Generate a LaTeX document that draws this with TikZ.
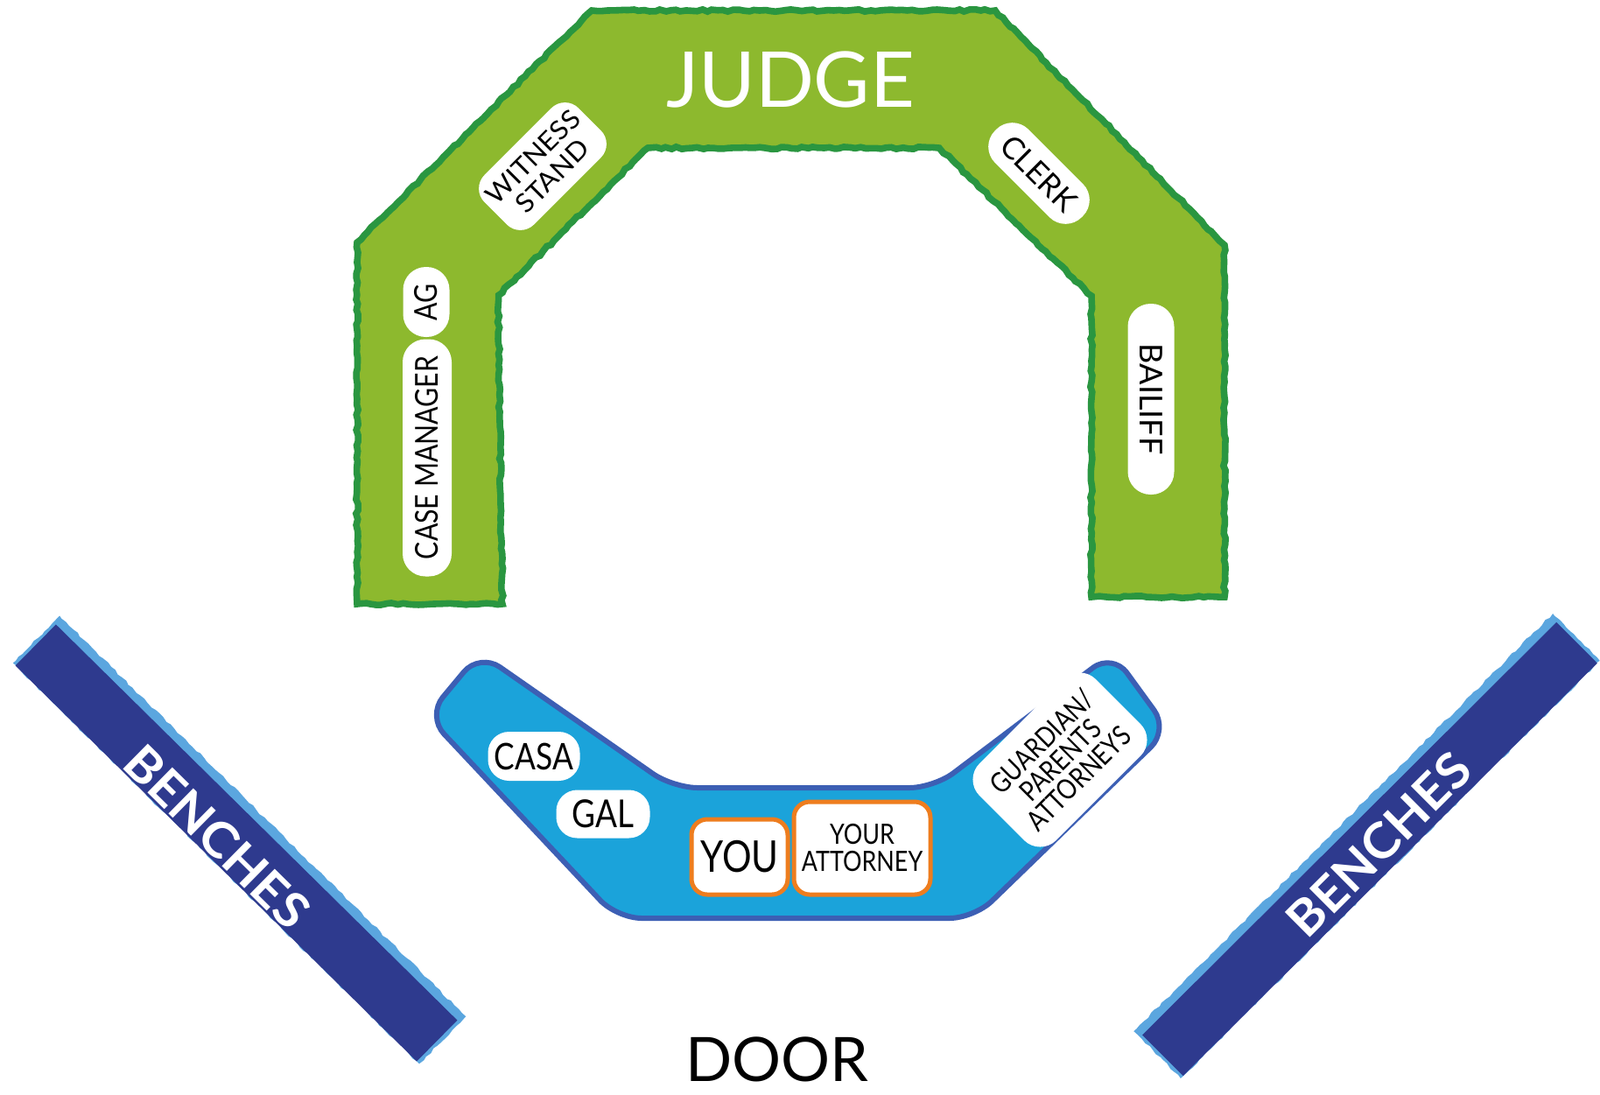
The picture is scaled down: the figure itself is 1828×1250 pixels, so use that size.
\documentclass[tikz,border=0pt]{standalone}
\usepackage{fontspec}
\setmainfont{Lato}
\newfontfamily\condf[FakeStretch=0.84]{Lato}
\newfontfamily\widef[FakeStretch=1.06]{Lato}
\usetikzlibrary{decorations.pathmorphing}
\definecolor{archfill}{HTML}{8DB92E}
\definecolor{archedge}{HTML}{2A9640}
\definecolor{tablefill}{HTML}{1BA3DA}
\definecolor{tableedge}{HTML}{3C5FB4}
\definecolor{benchdark}{HTML}{2E3A8E}
\definecolor{benchlight}{HTML}{5BA6DF}
\definecolor{youorange}{HTML}{EE7D1E}
\newcommand{\fsz}[2]{\fontsize{#1}{#2}\selectfont}
\begin{document}
\begin{tikzpicture}[x=0.5pt,y=-0.5pt,
  rough/.style={decorate, decoration={random steps, segment length=3pt, amplitude=0.6pt}},
  tag/.style={fill=white, inner sep=0pt, align=center, text=black, font=\condf\fsz{18pt}{18pt}},
  pill/.style={tag, rounded corners=13pt},
  orangebox/.style={tag, draw=youorange, line width=2.5pt, rounded corners=9pt},
  benchbg/.style={fill=benchlight, rough, inner sep=0pt, minimum height=38pt},
  benchfg/.style={fill=benchdark, inner sep=0pt, minimum height=33pt},
  benchtext/.style={text=white, inner sep=0pt, font=\widef\bfseries\fsz{28pt}{28pt}}
]
\useasboundingbox (0,0) rectangle (1828,1250);
\fill[white] (0,0) rectangle (1828,1250);

% judge's bench (arch)
\fill[archfill] (408,690) -- (408,277) -- (676,12) -- (1137,12) -- (1399,280) -- (1399,682)
  -- (1247,682) -- (1247,338) -- (1073,169) -- (740,169) -- (569,338) -- (574,690) -- cycle;
\draw[archedge, line width=3.8pt, rough] (408,690) -- (408,277) -- (676,12) -- (1137,12) -- (1399,280) -- (1399,682)
  -- (1247,682) -- (1247,338) -- (1073,169) -- (740,169) -- (569,338) -- (574,690) -- cycle;

\node[text=white, inner sep=0pt, font=\fsz{44pt}{44pt}] (judge) at (903,91) {JUDGE};
\node[tag, rotate=45, minimum width=76pt, minimum height=40pt, rounded corners=11pt,
      font=\widef\fsz{15pt}{15.5pt}] (witness) at (620,190) {WITNESS\\STAND};
\node[pill, rotate=-45, minimum width=70pt, minimum height=27pt,
      font=\fsz{17.5pt}{17.5pt}] (clerk) at (1187,198) {CLERK};
\node[pill, rotate=90, minimum width=40pt, minimum height=26.5pt] (ag) at (487,345) {AG};
\node[pill, rotate=90, minimum width=135.5pt, minimum height=28pt] (casemgr) at (488,523) {CASE MANAGER};
\node[pill, rotate=-90, minimum width=109pt, minimum height=26.5pt,
      font=\fsz{18pt}{18pt}] (bailiff) at (1315,456) {BAILIFF};

% counsel table
\path[fill=tablefill, draw=tableedge, line width=3pt, rounded corners=14pt]
  (488,818) -- (548,746) -- (769,900) -- (1067,900) -- (1271,746) -- (1335,834)
  -- (1113,1049) -- (705,1049) -- cycle;

\node[pill, rounded corners=12pt, minimum width=52.5pt, minimum height=28pt,
      font=\condf\fsz{21pt}{21pt}] (casa) at (610,864) {CASA};
\node[pill, rounded corners=12pt, minimum width=53.5pt, minimum height=27.5pt,
      font=\condf\fsz{22pt}{22pt}] (gal) at (689,930) {GAL};
\node[orangebox, minimum width=55pt, minimum height=43pt,
      font=\condf\fsz{25pt}{25pt}] (you) at (845,979) {YOU};
\node[orangebox, minimum width=78pt, minimum height=53pt,
      font=\condf\fsz{16pt}{15.5pt}] (atty) at (985,969) {YOUR\\ATTORNEY};
\node[tag, rotate=45, rounded corners=13pt, minimum width=94pt, minimum height=62pt,
      font=\condf\fsz{16pt}{15pt}] (guard) at (1211,868) {GUARDIAN/\\PARENTS\\ATTORNEYS};

% benches
\node[benchbg, rotate=-44.6, minimum width=326pt] (lbenchbg) at (273.5,959.4) {};
\node[benchfg, rotate=-44.6, minimum width=322pt] (lbench) at (270,963) {};
\node[benchtext, rotate=-44.6] (lbenchlbl) at (248,956) {BENCHES};
\node[benchbg, rotate=44.9, minimum width=338pt] (rbenchbg) at (1561.5,966.5) {};
\node[benchfg, rotate=44.9, minimum width=334pt] (rbench) at (1565,970) {};
\node[benchtext, rotate=44.9] (rbenchlbl) at (1575,965) {BENCHES};

% door
\node[inner sep=0pt, font=\fsz{35pt}{35pt}] (door) at (888,1210) {DOOR};
\end{tikzpicture}
\end{document}
